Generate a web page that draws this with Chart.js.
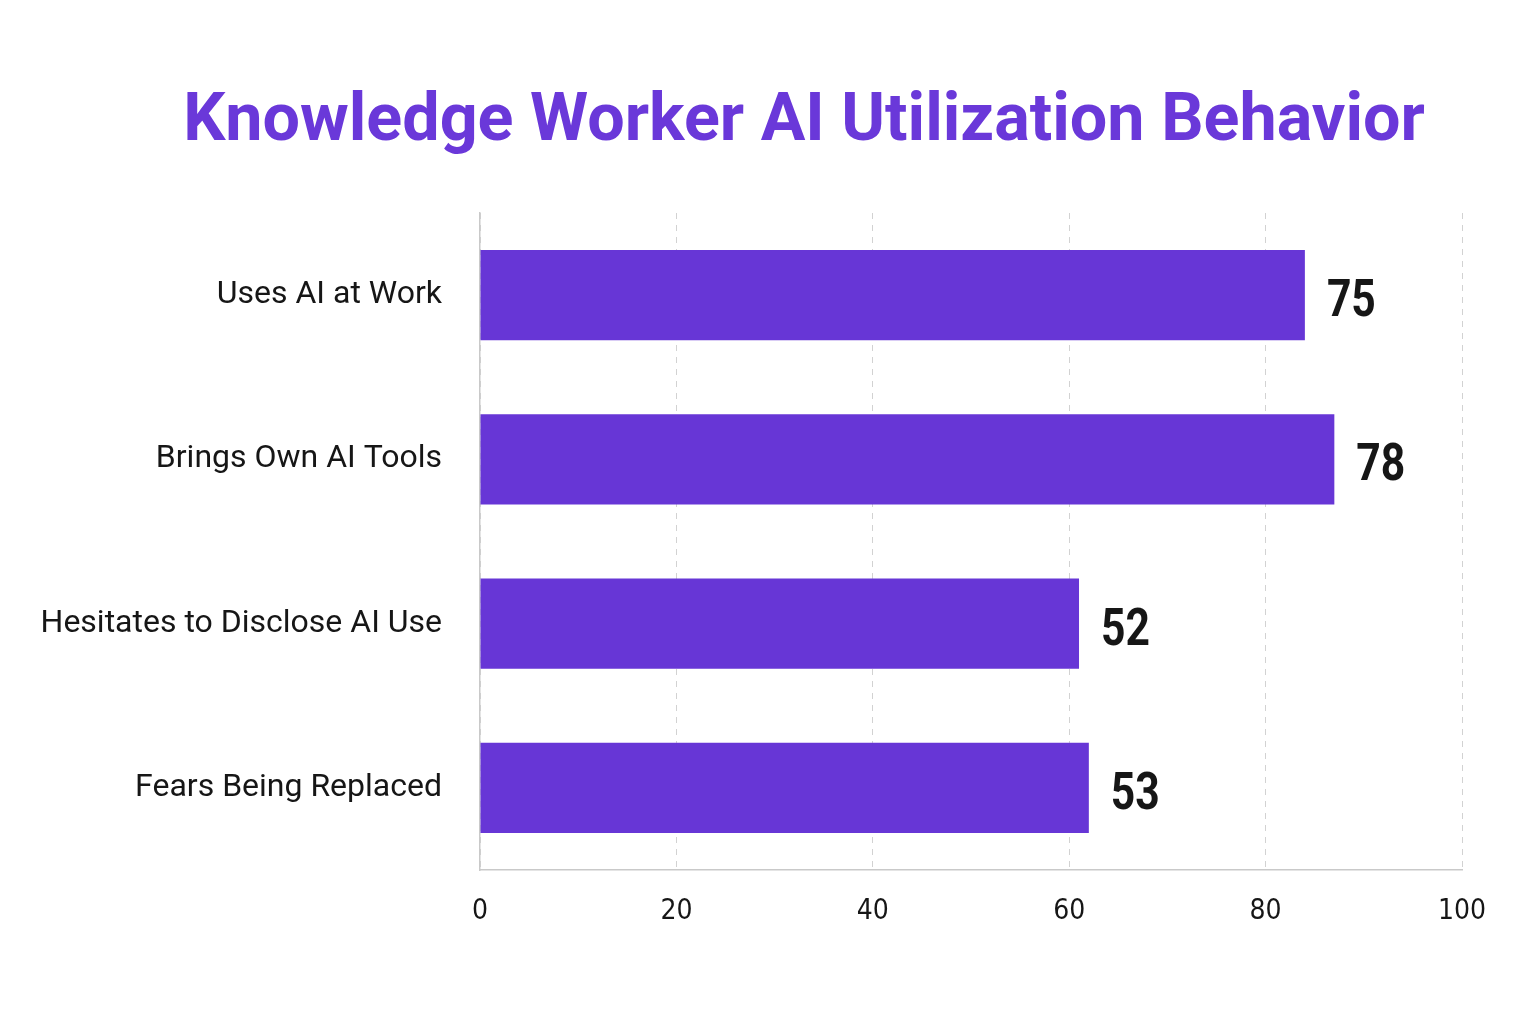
<!DOCTYPE html>
<html>
<head>
<meta charset="utf-8">
<script src="https://cdn.jsdelivr.net/npm/chart.js@4.4.1/dist/chart.umd.min.js"></script>
<style>
  html, body { margin: 0; padding: 0; background: #ffffff; }
  #chart-container { position: relative; width: 1536px; height: 1024px; }
</style>
</head>
<body>
<div id="chart-container">
  <canvas id="chart" width="1536" height="1024"></canvas>
</div>
<script>
const chartTitle = "Knowledge Worker AI Utilization Behavior"
const categories = ["Uses AI at Work", "Brings Own AI Tools", "Hesitates to Disclose AI Use", "Fears Being Replaced"]
// bar lengths as drawn in the picture (they run past the printed numbers)
const barValues = [84, 87, 61, 62]
// numbers printed next to each bar
const printedValues = [75, 78, 52, 53]
const xTicks = [0, 20, 40, 60, 80, 100]

const purple = "#6736d6"
const sans = "Roboto, 'Noto Sans', sans-serif"

// title + value labels drawn on the canvas
const textPlugin = {
    id: "textPlugin",
    afterDraw(chart){
        const ctx = chart.ctx
        ctx.save()
        // title, shrunk to its width in the picture
        let size = 82
        ctx.font = "bold " + size + "px " + sans
        const w = ctx.measureText(chartTitle).width
        if (w > 1242) {
            size = size * 1242 / w
            ctx.font = "bold " + size + "px " + sans
        }
        ctx.fillStyle = "#6a38d9"
        ctx.textAlign = "center"
        ctx.textBaseline = "middle"
        ctx.fillText(chartTitle, 804, 123)

        // printed numbers at the end of the bars (narrow bold digits)
        const meta = chart.getDatasetMeta(0)
        ctx.font = "bold 52px " + sans
        ctx.fillStyle = "#161616"
        ctx.textAlign = "left"
        meta.data.forEach((bar, i) => {
            ctx.save()
            ctx.translate(bar.x + 22, bar.y + 8)
            ctx.scale(0.82, 1)
            ctx.fillText(String(printedValues[i]), 0, 0)
            ctx.restore()
        })
        ctx.restore()
    }
}

const context = document.getElementById("chart").getContext("2d")

const newChart = new Chart(context, {
    type: "bar",
    data: {
        labels: categories,
        datasets: [{
            data: barValues,
            backgroundColor: purple,
            borderWidth: 0,
            barPercentage: 1,
            categoryPercentage: 0.55
        }]
    },
    options: {
        indexAxis: "y",
        responsive: false,
        animation: false,
        layout: {
            padding: { top: 213, right: 74, bottom: 0, left: 0 }
        },
        plugins: {
            legend: { display: false },
            tooltip: { enabled: false }
        },
        scales: {
            x: {
                min: 0,
                max: 100,
                afterBuildTicks(scale){
                    scale.ticks = xTicks.map(v => ({ value: v }))
                },
                afterFit(scale){
                    scale.height = 154
                },
                grid: {
                    color: "#d2d2d2",
                    lineWidth: 1,
                    drawTicks: false
                },
                border: {
                    display: true,
                    color: "#c9c9c9",
                    width: 1.5,
                    dash: [6, 6]
                },
                ticks: {
                    padding: 25,
                    color: "#161616",
                    font: { family: "'DejaVu Sans Condensed', " + sans, size: 28 }
                }
            },
            y: {
                afterFit(scale){
                    scale.width = 480
                },
                grid: {
                    display: false,
                    drawTicks: false
                },
                border: {
                    display: true,
                    color: "#c9c9c9",
                    width: 1.5
                },
                ticks: {
                    padding: 38,
                    color: "#161616",
                    font: { family: sans, size: 32 }
                }
            }
        }
    },
    plugins: [textPlugin]
})
</script>
</body>
</html>
